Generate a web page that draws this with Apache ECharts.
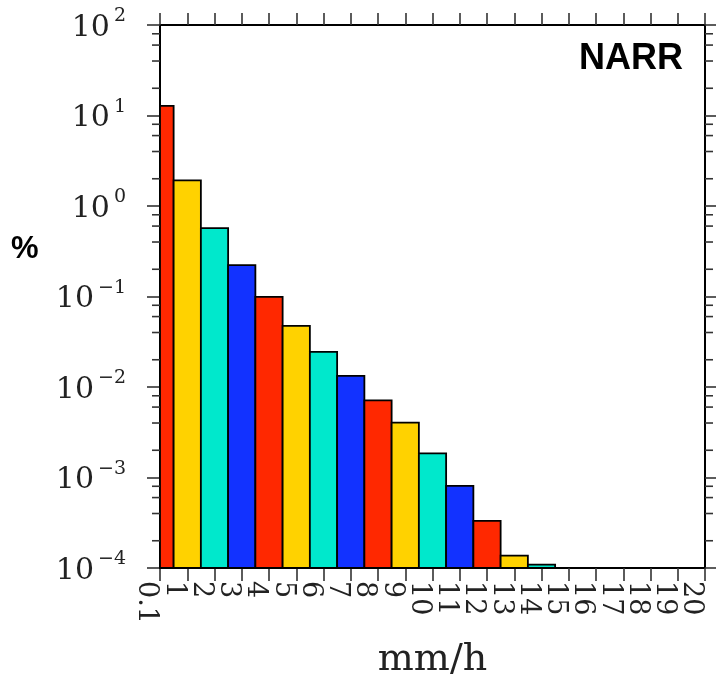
<!DOCTYPE html>
<html>
<head>
<meta charset="utf-8">
<script src="https://cdn.jsdelivr.net/npm/echarts@6/dist/echarts.min.js"></script>
<style>
html,body{margin:0;padding:0;background:#fff;}
#chart{width:716px;height:684px;}
</style>
</head>
<body>
<div id="chart"></div>
<script>
// Category tick labels on the x axis (mm/h)
const categories = ['0.1','1','2','3','4','5','6','7','8','9','10','11','12','13','14','15','16','17','18','19','20'];
// Frequency (%) for each bin
const values = [12.8, 1.92, 0.57, 0.222, 0.099, 0.0473, 0.0245, 0.0133, 0.0071, 0.00405, 0.00185, 0.00081, 0.000332, 0.000137, 0.000109];
// Bar colours cycle
const barColors = ['#ff2800', '#ffd200', '#00e8cc', '#1232ff'];
// Log axis range and minor tick multipliers
const yMin = 1e-4, yMax = 100;
const decades = [-4, -3, -2, -1, 0, 1];
const minorMultipliers = [2, 4, 6, 8];

const minorTicks = [];
decades.forEach(function (d) {
  minorMultipliers.forEach(function (m) { minorTicks.push([0, m * Math.pow(10, d)]); });
});
const barData = values.map(function (v, i) { return [i, v]; });

const chart = echarts.init(document.getElementById('chart'));
const axisLine = { show: true, lineStyle: { color: '#000', width: 2 } };
const tickStyle = { color: '#333', width: 1.6 };

chart.setOption({
  animation: false,
  backgroundColor: '#fff',
  grid: { left: 160, right: 11, top: 25, bottom: 113, containLabel: false },
  xAxis: [{
    type: 'category',
    data: categories,
    boundaryGap: false,
    position: 'bottom',
    axisLine: axisLine,
    axisTick: { show: true, inside: false, length: 13, interval: 0, lineStyle: tickStyle },
    axisLabel: {
      interval: 0, rotate: -90, margin: 13,
      fontFamily: 'DejaVu Serif', fontSize: 27, color: '#222',
      verticalAlign: 'top'
    },
    splitLine: { show: false },
    name: 'mm/h', nameLocation: 'middle', nameGap: 73,
    nameTextStyle: { fontFamily: 'DejaVu Serif', fontSize: 38, color: '#222' }
  }, {
    type: 'category',
    data: categories,
    boundaryGap: false,
    position: 'top',
    axisLine: axisLine,
    axisTick: { show: true, inside: false, length: 12, interval: 0, lineStyle: tickStyle },
    axisLabel: { show: false },
    splitLine: { show: false }
  }],
  yAxis: [{
    type: 'log', logBase: 10, min: yMin, max: yMax, splitNumber: 6,
    position: 'left',
    axisLine: axisLine,
    axisTick: { show: true, inside: false, length: 13, lineStyle: tickStyle },
    splitLine: { show: false },
    axisLabel: {
      margin: 34,
      formatter: function (v) {
        const e = Math.round(Math.log10(v));
        const s = String(e).split('').map(function (c) { return c === '-' ? '\u2212' : c; }).join('');
        return '{b|10}{s|' + s + '}';
      },
      rich: {
        b: { fontFamily: 'DejaVu Serif', fontSize: 30, color: '#222', lineHeight: 36, verticalAlign: 'bottom' },
        s: { fontFamily: 'DejaVu Serif', fontSize: 19, color: '#222', lineHeight: 36, verticalAlign: 'top', padding: [0, 0, 12, 4] }
      }
    }
  }, {
    type: 'log', logBase: 10, min: yMin, max: yMax, splitNumber: 6,
    position: 'right',
    axisLine: axisLine,
    axisTick: { show: true, inside: false, length: 13, lineStyle: tickStyle },
    axisLabel: { show: false },
    splitLine: { show: false }
  }],
  series: [{
    type: 'custom',
    xAxisIndex: 0, yAxisIndex: 0,
    data: barData,
    encode: { x: 0, y: 1 },
    z: 2,
    renderItem: function (params, api) {
      const cs = params.coordSys;
      const i = api.value(0), v = api.value(1);
      const top = api.coord([i, v]);
      const base = api.coord([i, yMin]);
      const w = api.size([1, 0])[0];
      const rect = echarts.graphic.clipRectByRect(
        { x: top[0] - w / 2, y: top[1], width: w, height: base[1] - top[1] },
        { x: cs.x, y: cs.y, width: cs.width, height: cs.height }
      );
      if (!rect) return null;
      return {
        type: 'rect',
        shape: rect,
        style: { fill: barColors[params.dataIndex % barColors.length], stroke: '#000', lineWidth: 1.8 }
      };
    }
  }, {
    type: 'custom',
    xAxisIndex: 0, yAxisIndex: 0,
    data: minorTicks,
    silent: true,
    z: 5,
    renderItem: function (params, api) {
      const cs = params.coordSys;
      const y = api.coord([0, api.value(1)])[1];
      const left = cs.x, right = cs.x + cs.width;
      return {
        type: 'group',
        children: [
          { type: 'line', shape: { x1: left - 8, y1: y, x2: left, y2: y }, style: { stroke: '#333', lineWidth: 1.6 } },
          { type: 'line', shape: { x1: right, y1: y, x2: right + 8, y2: y }, style: { stroke: '#333', lineWidth: 1.6 } }
        ]
      };
    }
  }],
  graphic: [
    { type: 'text', left: 579, top: 41, style: { text: 'NARR', fontFamily: 'Liberation Sans', fontWeight: 'bold', fontSize: 36, fill: '#000' } },
    { type: 'text', left: 11, top: 234, style: { text: '%', fontFamily: 'Liberation Sans', fontWeight: 'bold', fontSize: 31, fill: '#000' } }
  ]
});
</script>
</body>
</html>
